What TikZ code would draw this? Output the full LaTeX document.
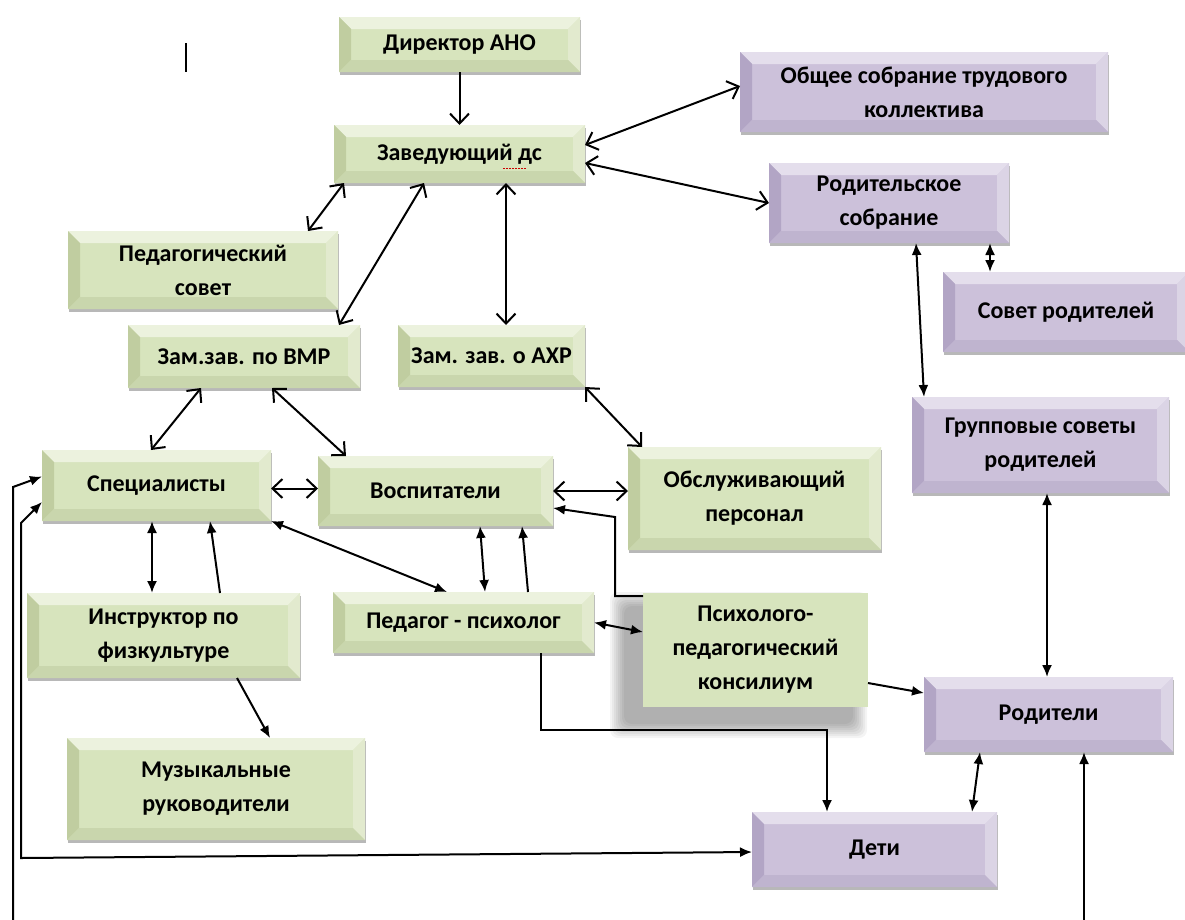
\documentclass[tikz,border=0pt]{standalone}
\usepackage{fontspec}
\setmainfont{Carlito}
\usetikzlibrary{arrows.meta,shadows,backgrounds,calc}
\definecolor{gbase}{RGB}{215,228,189}
\definecolor{gtop}{RGB}{236,242,222}
\definecolor{gleft}{RGB}{192,205,160}
\definecolor{gright}{RGB}{226,234,206}
\definecolor{gbot}{RGB}{201,214,173}
\definecolor{pbase}{RGB}{204,193,218}
\definecolor{ptop}{RGB}{228,222,236}
\definecolor{pleft}{RGB}{178,165,197}
\definecolor{pright}{RGB}{219,212,229}
\definecolor{pbot}{RGB}{191,180,207}
\tikzset{
  bevelpic/.style n args={4}{path picture={
    \path (path picture bounding box.north west) coordinate (bNW)
          (path picture bounding box.north east) coordinate (bNE)
          (path picture bounding box.south west) coordinate (bSW)
          (path picture bounding box.south east) coordinate (bSE);
    \fill[#1] (bNW) -- (bNE) -- ([shift={(-12pt,-12pt)}]bNE) -- ([shift={(12pt,-12pt)}]bNW) -- cycle;
    \fill[#2] (bNW) -- ([shift={(12pt,-12pt)}]bNW) -- ([shift={(12pt,12pt)}]bSW) -- (bSW) -- cycle;
    \fill[#3] (bNE) -- ([shift={(-12pt,-12pt)}]bNE) -- ([shift={(-12pt,12pt)}]bSE) -- (bSE) -- cycle;
    \fill[#4] (bSW) -- ([shift={(12pt,12pt)}]bSW) -- ([shift={(-12pt,12pt)}]bSE) -- (bSE) -- cycle;
  }},
  box/.style={rectangle, inner sep=0pt, outer sep=0pt, align=center, text=black,
    font=\fontsize{24}{34}\selectfont\bfseries},
  shad/.style={drop shadow={shadow xshift=0.5pt, shadow yshift=-3pt, opacity=0.28, fill=black}},
  gbox/.style={box, shad, fill=gbase, bevelpic={gtop}{gleft}{gright}{gbot}},
  pbox/.style={box, shad, fill=pbase, bevelpic={ptop}{pleft}{pright}{pbot}},
  sz/.style 2 args={minimum width=#1pt, minimum height=#2pt},
  con/.style={line width=2pt, draw=black},
  biopen/.style={con, {Straight Barb[length=10pt,width=19pt]}-{Straight Barb[length=10pt,width=19pt]}},
  toopen/.style={con, -{Straight Barb[length=10pt,width=19pt]}},
  bifill/.style={con, {Latex[length=12pt,width=10pt]}-{Latex[length=12pt,width=10pt]}},
  tofill/.style={con, -{Latex[length=12pt,width=10pt]}},
}
\begin{document}
\begin{tikzpicture}[x=1pt,y=-1pt]
\begin{scope}[on background layer]
  \fill[white] (0,0) rectangle (1185,919);
\end{scope}
\useasboundingbox (0,0) rectangle (1185,919);

% cursor mark
\draw[line width=2pt] (186,43) -- (186,72);

% boxes
\node[gbox, sz={241}{55}] (dir) at (459.5,44.5) {Директор АНО};
\node[gbox, sz={251}{58}] (zav) at (459.5,154) {Заведующий дс};
\node[pbox, sz={368}{80}] (obs) at (924,92) {Общее собрание трудового\\коллектива};
\node[pbox, sz={240}{80}] (rod) at (889,203) {Родительское\\собрание};
\node[gbox, sz={270}{78}] (ped) at (203,270) {Педагогический\\совет};
\node[pbox, sz={246}{80}] (sov) at (1066,312) {Совет родителей};
\node[gbox, sz={232}{63}] (vmr) at (244,356.5) {Зам.зав. по ВМР};
\node[gbox, sz={187}{62}] (ahr) at (491.5,356) {Зам. зав. о АХР};
\node[pbox, sz={257}{96}] (grp) at (1040.5,445) {Групповые советы\\родителей};
\node[gbox, sz={229}{71}] (spec) at (156.5,485.5) {Специалисты};
\node[gbox, sz={235}{70}] (vosp) at (435.5,491) {Воспитатели};
\node[gbox, sz={253}{103}] (obsl) at (754.5,498.5) {Обслуживающий\\персонал};
\node[gbox, sz={273}{85}] (instr) at (163.5,635.5) {Инструктор по\\физкультуре};
\node[gbox, sz={261}{61}] (pp) at (463.5,622.5) {Педагог - психолог};
\node[box, fill=gbase, sz={225}{114}] (psy) at (755.5,650) {Психолого-\\педагогический\\консилиум};
\node[pbox, sz={249}{75}] (rdt) at (1048.5,714.5) {Родители};
\node[gbox, sz={298}{102}] (muz) at (216,789) {Музыкальные\\руководители};
\node[pbox, sz={245}{75}] (det) at (874.5,849.5) {Дети};

% soft shadow of the council box
\begin{scope}[on background layer]
  \foreach \e in {2,4,...,16}{
    \fill[black, opacity=0.045, rounded corners=8pt]
      ([shift={(-17pt-\e pt,-15pt+\e pt)}]psy.north west) rectangle
      ([shift={(-17pt+\e pt,-15pt-\e pt)}]psy.south east);
  }
\end{scope}

% spelling mark under "дс"
\draw[red!80!black, line width=1pt, dash pattern=on 1.5pt off 1.5pt] (503,168) -- (527,168);

% connectors
\draw[toopen] (dir.south) -- (zav.north);
\draw[biopen] ([xshift=10pt]zav.south west) -- ([xshift=-30pt]ped.north east);
\draw[biopen] ([xshift=90pt]zav.south west) -- ([xshift=211pt]vmr.north west);
\draw[biopen] ([xshift=172pt]zav.south west) -- ([xshift=108pt]ahr.north west);
\draw[biopen] ([yshift=9pt]zav.east) -- ([yshift=6pt]obs.west);
\draw[biopen] ([yshift=-9pt]zav.east) -- (rod.west);
\draw[bifill] ([xshift=-19pt]rod.south east) -- ([xshift=47pt]sov.north west);
\draw[bifill] ([xshift=147pt]rod.south west) -- ([xshift=12pt]grp.north west);
\draw[biopen] ([xshift=73pt]vmr.south west) -- ([xshift=109pt]spec.north west);
\draw[biopen] ([xshift=144pt]vmr.south west) -- ([xshift=28pt]vosp.north west);
\draw[biopen] (ahr.south east) -- ([xshift=14pt]obsl.north west);
\draw[biopen] ([yshift=-3pt]spec.east) -- ([yshift=-3pt]spec.east -| vosp.west);
\draw[biopen] (vosp.east) -- (vosp.east -| obsl.west);
\coordinate (kpA) at (615,517);
\draw[tofill] ([yshift=-3pt]psy.north west) -| (kpA) -- ([yshift=18pt]vosp.south east);
\draw[bifill] ([xshift=162pt]vosp.south west) -- ([xshift=152pt]pp.north west);
\draw[tofill] ([xshift=195pt]pp.north west) -- ([xshift=204pt]vosp.south west);
\draw[bifill] (spec.south east) -- ([xshift=114pt]pp.north west);
\draw[bifill] ([xshift=110pt]spec.south west) -- ([xshift=125pt]instr.north west);
\draw[tofill] ([xshift=193pt]instr.north west) -- ([xshift=168pt]spec.south west);
\draw[tofill] ([xshift=210pt]instr.south west) -- ([xshift=203pt]muz.north west);
\draw[bifill] (pp.east) -- ([yshift=18pt]psy.west);
\draw[tofill] ([yshift=24pt]psy.south east) -- ([yshift=-16pt]rdt.north west);
\draw[bifill] ([xshift=135pt]grp.south west) -- ([xshift=123pt]rdt.north west);
\draw[bifill] ([xshift=56pt]rdt.south west) -- ([xshift=-25pt]det.north east);
\coordinate (kpB) at (541,730);
\draw[tofill] ([xshift=208pt]pp.south west) -- (kpB) -| ([xshift=75pt]det.north west);
\coordinate (kpC) at (21,523);
\coordinate (kpD) at (21,858);
\draw[bifill] ([yshift=-16.5pt]spec.west) -- (kpC) -- (kpD) -- ([yshift=-2.5pt]det.west);
\coordinate (kpE) at (13,925);
\coordinate (kpF) at (13,487);
\draw[tofill] (kpE) -- (kpF) -- ([yshift=9pt]spec.west);
\coordinate (kpG) at (1084,925);
\draw[tofill] (kpG) -- ([xshift=160pt]rdt.south west);
\end{tikzpicture}
\end{document}
